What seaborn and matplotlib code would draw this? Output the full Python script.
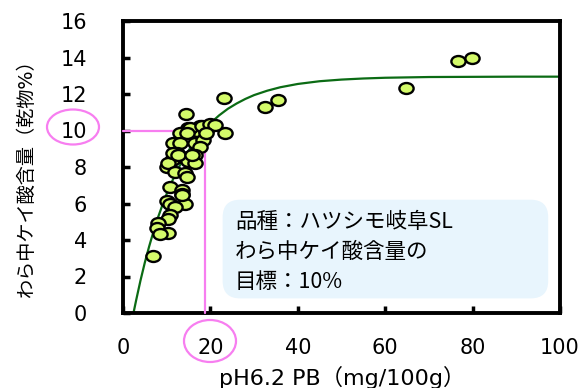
import numpy as np
import pandas as pd
import matplotlib
matplotlib.use('Agg')
import matplotlib.pyplot as plt
import seaborn as sns
from matplotlib.path import Path
from matplotlib.transforms import Affine2D
from matplotlib.patches import Ellipse, FancyBboxPatch

# --- data ---
pb = [76.6, 79.9, 64.8, 23.0, 35.5, 32.6, 14.5, 23.3, 20.7, 17.6, 14.9, 13.0,
      16.9, 19.1, 11.4, 13.0, 16.5, 18.4, 17.6, 12.3, 12.5, 14.9, 16.5, 11.2,
      14.9, 16.5, 10.0, 10.4, 11.9, 14.2, 14.6, 10.75, 13.6, 13.4, 10.0, 10.75,
      14.2, 11.9, 10.75, 10.4, 8.1, 7.7, 10.4, 8.5, 6.9, 15.3, 18.0, 19.9,
      21.0, 19.0, 14.6, 11.5, 12.7, 15.7, 13.4]
si = [13.83, 14.0, 12.35, 11.76, 11.69, 11.27, 10.89, 9.88, 10.3, 10.25, 10.12, 9.88,
      9.99, 10.0, 9.33, 9.3, 9.3, 9.48, 9.11, 8.75, 8.57, 8.57, 8.66, 8.38,
      8.34, 8.2, 8.02, 8.2, 7.74, 7.65, 7.43, 6.89, 6.74, 6.52, 6.14, 6.0,
      6.0, 5.83, 5.37, 5.13, 4.91, 4.64, 4.4, 4.31, 3.14, 10.12, 10.25, 10.36,
      10.3, 9.85, 9.85, 8.75, 8.66, 8.66, 6.47]

curve_x = [2.4, 3, 4, 5, 6, 7, 8, 9, 10, 11, 12, 13, 14, 15, 16, 17, 18, 19, 20,
           22, 24, 26, 28, 30, 33, 36, 40, 45, 50, 55, 60, 70, 80, 90, 100]
curve_y = [0.0, 0.69, 1.78, 2.77, 3.66, 4.48, 5.23, 5.90, 6.53, 7.09, 7.61, 8.08,
           8.51, 8.90, 9.26, 9.58, 9.88, 10.15, 10.40, 10.83, 11.19, 11.48, 11.73,
           11.94, 12.18, 12.37, 12.55, 12.70, 12.79, 12.85, 12.89, 12.93, 12.94,
           12.95, 12.95]

target_x = 18.8
target_y = 10

x_ticks = [0, 20, 40, 60, 80, 100]
y_ticks = [0, 2, 4, 6, 8, 10, 12, 14, 16]

box_lines = ['品種：ハツシモ岐阜SL', 'わら中ケイ酸含量の', '目標：10%']

sns.set_style('ticks')
plt.rcParams['font.family'] = ['DejaVu Sans', 'Noto Sans CJK JP']

W, H = 583, 388
fig = plt.figure(figsize=(W / 100, H / 100), dpi=100)
ax = fig.add_axes([123 / W, 1 - 313 / H, 437 / W, 292 / H])

pink = '#f77ef0'

# fitted curve
sns.lineplot(x=curve_x, y=curve_y, ax=ax, color='#0b6b14', lw=1.6, zorder=2)

# target guide lines
ax.plot([0, target_x, target_x], [target_y, target_y, 0], color=pink, lw=1.6,
        zorder=3, clip_on=False)

# elliptical markers
ell = Path.unit_circle().transformed(Affine2D().scale(1.3, 1.0))
df = pd.DataFrame({'pb': pb, 'si': si})
sns.scatterplot(data=df, x='pb', y='si', ax=ax, marker=ell, s=105,
                color='#d4fa6a', edgecolor='black', linewidth=1.7, zorder=4)

ax.set_xlim(0, 100)
ax.set_ylim(0, 16)
ax.set_xticks(x_ticks)
ax.set_yticks(y_ticks)
ax.tick_params(direction='in', length=5, width=2.5, labelsize=15,
               color='black', labelcolor='black')
ax.tick_params(axis='y', pad=26)
ax.tick_params(axis='x', pad=18)
for s in ax.spines.values():
    s.set_linewidth(2.8)
    s.set_color('black')
    s.set_visible(True)

ax.set_xlabel('')
ax.set_ylabel('')
fig.text(342 / W, 1 - 377 / H, 'pH6.2 PB（mg/100g）', fontsize=16,
         ha='center', va='center', color='black')
fig.text(26 / W, 1 - 173 / H, 'わら中ケイ酸含量（乾物%）', fontsize=13.8,
         rotation=90, ha='center', va='center', color='black')

# info box
box = FancyBboxPatch((0.228, 0.05), 0.745, 0.338, transform=ax.transAxes,
                     boxstyle='round,pad=0,rounding_size=0.04',
                     facecolor='#e8f5fd', edgecolor='none', zorder=1,
                     mutation_aspect=437 / 292)
ax.add_patch(box)
for i, line in enumerate(box_lines):
    ax.text((235 - 123) / 437, (313 - 222 - i * 30) / 292, line, transform=ax.transAxes,
            fontsize=15.5, va='center', ha='left', zorder=5, color='black',
            family=['Noto Sans CJK JP', 'DejaVu Sans'])

# pink highlight ellipses around tick labels
fig.patches.append(Ellipse((73 / W, 1 - 127 / H), 52 / W, 35 / H, transform=fig.transFigure,
                           fill=False, edgecolor=pink, lw=1.6))
fig.patches.append(Ellipse((210 / W, 1 - 341 / H), 52 / W, 42 / H, transform=fig.transFigure,
                           fill=False, edgecolor=pink, lw=1.6))

fig.savefig('out.png', dpi=100)
